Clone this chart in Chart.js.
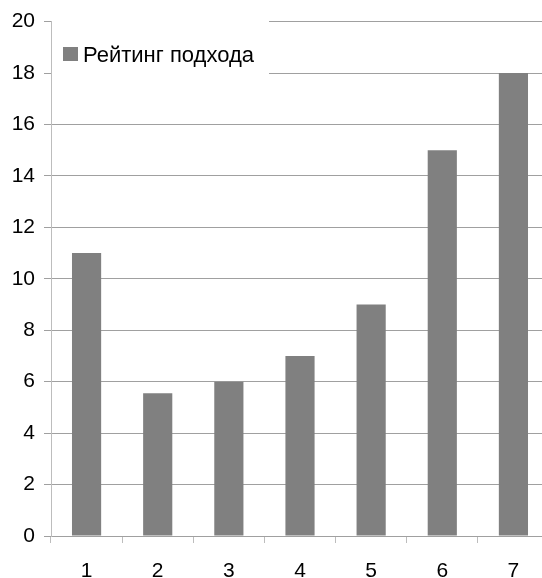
<!DOCTYPE html>
<html lang="ru">
<head>
  <meta charset="UTF-8">
  <title>Рейтинг подхода</title>
  <style>
    html, body { margin: 0; padding: 0; background: #fff; overflow: hidden; }
    #wrap { position: absolute; left: 0; top: 0; width: 549px; height: 578px; }
  </style>
</head>
<body>
  <div id="wrap">
    <canvas id="ratingChart" width="549" height="578"></canvas>
  </div>

  <script src="https://cdn.jsdelivr.net/npm/chart.js"></script>
  <script>
    // Данные
    const categories = ['1', '2', '3', '4', '5', '6', '7'];
    const ratingValues = [11, 5.55, 6, 7, 9, 15, 18];
    const seriesName = 'Рейтинг подхода';
    const yTicks = [0, 2, 4, 6, 8, 10, 12, 14, 16, 18, 20];

    const barColor = '#808080';
    const fontFamily = '"Liberation Sans", Arial, sans-serif';

    // Легенда внутри области графика, на белой подложке поверх сетки
    const innerLegend = {
      id: 'innerLegend',
      beforeDatasetsDraw(chart) {
        const ctx = chart.ctx;
        const area = chart.chartArea;
        ctx.save();
        ctx.fillStyle = '#fff';
        ctx.fillRect(area.left + 1, area.top - 3, 217, 58);
        ctx.fillStyle = barColor;
        ctx.fillRect(63, 47, 15, 14);
        ctx.fillStyle = '#000';
        ctx.font = '22px ' + fontFamily;
        ctx.textBaseline = 'alphabetic';
        ctx.fillText(chart.data.datasets[0].label, 83, 62);
        ctx.restore();
      }
    };

    const ctx = document.getElementById('ratingChart').getContext('2d');
    new Chart(ctx, {
      type: 'bar',
      data: {
        labels: categories,
        datasets: [{
          label: seriesName,
          data: ratingValues,
          backgroundColor: barColor,
          borderWidth: 0,
          categoryPercentage: 1,
          barPercentage: 0.41
        }]
      },
      options: {
        responsive: false,
        animation: false,
        devicePixelRatio: 1,
        layout: { padding: { top: 19, right: 0, left: 0, bottom: 0 } },
        plugins: {
          legend: { display: false },
          tooltip: { enabled: false }
        },
        scales: {
          x: {
            offset: true,
            grid: {
              offset: true,
              drawOnChartArea: false,
              drawTicks: true,
              tickLength: 7,
              color: '#bdbdbd'
            },
            border: { color: '#a0a0a0' },
            ticks: {
              color: '#000',
              font: { family: fontFamily, size: 21 },
              padding: 16,
              maxRotation: 0
            },
            afterFit(scale) { scale.height = 42; }
          },
          y: {
            min: 0,
            max: 20,
            afterBuildTicks(scale) {
              scale.ticks = yTicks.map(v => ({ value: v }));
            },
            grid: {
              color: '#a0a0a0',
              drawTicks: true,
              tickLength: 7
            },
            border: { color: '#bdbdbd' },
            ticks: {
              color: '#000',
              font: { family: fontFamily, size: 21 },
              padding: 9
            },
            afterFit(scale) { scale.width = 51; }
          }
        }
      },
      plugins: [innerLegend]
    });
  </script>
</body>
</html>
